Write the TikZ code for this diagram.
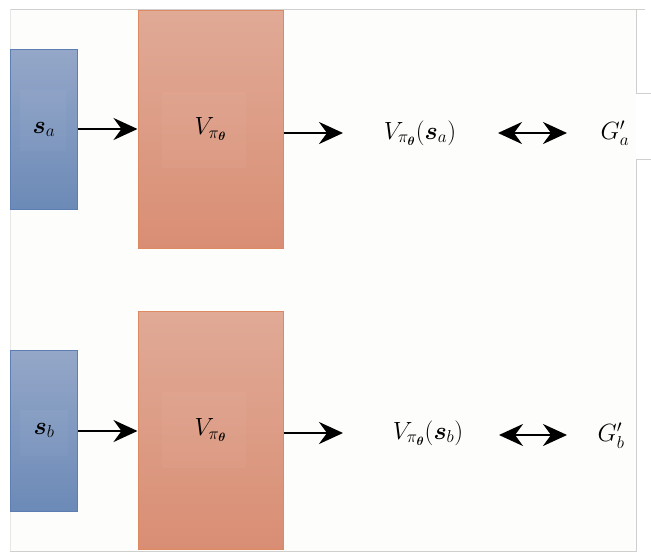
\documentclass[tikz,border=0pt]{standalone}
\usepackage{amsmath}
\usepackage{bm}
\usetikzlibrary{arrows.meta}
\definecolor{panelbg}{HTML}{FDFDFB}
\definecolor{blueTop}{HTML}{94A7C8}
\definecolor{blueBot}{HTML}{6C8AB7}
\definecolor{blueEdge}{HTML}{5D7EB3}
\definecolor{orTop}{HTML}{E0AA96}
\definecolor{orBot}{HTML}{D98E74}
\definecolor{orEdge}{HTML}{DD8A62}
\definecolor{frameGray}{HTML}{CFCFCF}
\tikzset{
  inbox/.style={draw=blueEdge, line width=1pt, top color=blueTop, bottom color=blueBot,
    minimum width=67pt, inner sep=0pt, font=\fontsize{24}{28}\selectfont},
  netbox/.style={draw=orEdge, line width=1pt, top color=orTop, bottom color=orBot,
    minimum width=145pt, minimum height=238pt, inner sep=0pt, font=\fontsize{24}{28}\selectfont},
  lbl/.style={inner sep=2pt, font=\fontsize{24}{28}\selectfont},
  tip/.tip={Stealth[length=24pt,width=22pt,inset=8pt]},
  flow/.style={line width=2.6pt, -tip},
  both/.style={line width=2.6pt, tip-tip},
  frame/.style={draw=frameGray, line width=0.8pt},
  glow/.style={fill=white, fill opacity=0.035, draw=none}
}
\begin{document}
\begin{tikzpicture}[x=1pt,y=-1pt]
\useasboundingbox[fill=white] (0,0) rectangle (651,555);
\fill[panelbg] (10,9) rectangle (636,551);
\draw[frame] (10,9) -- (645,9);
\draw[frame] (636,9) -- (636,93) -- (651,93);
\draw[frame] (651,159) -- (636,159) -- (636,551) -- (10,551);
\draw[frameGray!50, line width=0.5pt] (10,9) -- (10,551);
% row a
\node[inbox, minimum height=160pt] (sa) at (44,129.5) {};
\node[netbox] (va) at (210.5,129) {};
\fill[glow] (20,90) rectangle (66,151);
\fill[glow] (162,92) rectangle (246,168);
\node[lbl, inner sep=0pt] (ta) at (sa.center) {$\bm{s}_a$};
\node[lbl, inner sep=0pt] (tva) at (va.center) {$V_{\pi_{\bm{\theta}}}$};
\node[lbl] (oa) at (420,133) {$V_{\pi_{\bm{\theta}}}(\bm{s}_a)$};
\node[lbl] (ga) at (615,133) {$G'_a$};
\coordinate (aend) at (343,133);
\coordinate (da1) at (498,133);
\coordinate (da2) at (567,133);
\draw[flow] (sa.east |- 0,129) -- (va.west |- 0,129);
\draw[flow] (va.east |- aend) -- (aend);
\draw[both] (da1) -- (da2);
% row b
\node[inbox, minimum height=161pt] (sb) at (44,430.5) {};
\node[netbox] (vb) at (210.5,430) {};
\fill[glow] (20,410) rectangle (68,456);
\fill[glow] (162,392) rectangle (246,468);
\node[lbl, inner sep=0pt] (tb) at (sb.center) {$\bm{s}_b$};
\node[lbl, inner sep=0pt] (tvb) at (vb.center) {$V_{\pi_{\bm{\theta}}}$};
\node[lbl] (ob) at (428,433) {$V_{\pi_{\bm{\theta}}}(\bm{s}_b)$};
\node[lbl] (gb) at (611,436) {$G'_b$};
\coordinate (bend) at (343,433);
\coordinate (db1) at (499,435);
\coordinate (db2) at (567,435);
\draw[flow] (sb.east |- 0,431) -- (vb.west |- 0,431);
\draw[flow] (vb.east |- bend) -- (bend);
\draw[both] (db1) -- (db2);
\end{tikzpicture}
\end{document}
